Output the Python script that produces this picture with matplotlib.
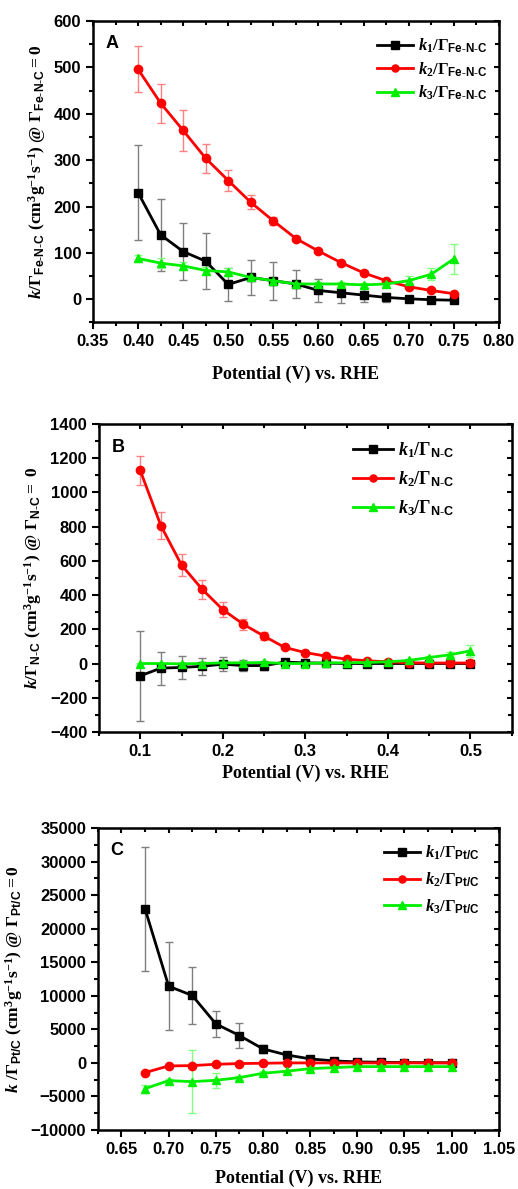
import numpy as np
import matplotlib
matplotlib.use("Agg")
import matplotlib.pyplot as plt
from matplotlib.ticker import MultipleLocator

plt.rcParams["font.family"] = ["Liberation Sans", "DejaVu Sans"]
plt.rcParams["font.weight"] = "bold"
plt.rcParams["mathtext.fontset"] = "custom"
plt.rcParams["mathtext.rm"] = "Liberation Serif:bold"
plt.rcParams["mathtext.it"] = "Liberation Serif:italic"
plt.rcParams["mathtext.bf"] = "Liberation Serif:bold"
plt.rcParams["mathtext.bfit"] = "Liberation Serif:italic:bold"
plt.rcParams["mathtext.sf"] = "Liberation Sans:bold"

# Panel A: Fe-N-C
pot_a = [0.400, 0.425, 0.450, 0.475, 0.500, 0.525, 0.550, 0.575, 0.600,
         0.625, 0.650, 0.675, 0.700, 0.725, 0.750]
k1_a = [230, 139, 103, 82, 32, 47, 40, 33, 19, 14, 9, 4, 1, -1, -2]
k1_a_err = [103, 77, 61, 60, 35, 38, 41, 30, 24, 22, 15, 10, 5, 3, 3]
k2_a = [496, 423, 364, 304, 256, 209, 169, 131, 104, 79, 57, 40, 27, 19, 12]
k2_a_err = [50, 42, 44, 31, 22, 15, 9, 6, 5, 4, 3, 3, 3, 2, 2]
k3_a = [88, 78, 72, 62, 59, 47, 40, 33, 33, 33, 31, 33, 40, 54, 87]
k3_a_err = [8, 10, 8, 8, 8, 6, 5, 5, 5, 5, 4, 4, 10, 13, 32]

# Panel B: N-C
pot_b = [0.100, 0.125, 0.150, 0.175, 0.200, 0.225, 0.250, 0.275, 0.300,
         0.325, 0.350, 0.375, 0.400, 0.425, 0.450, 0.475, 0.500]
k1_b = [-72, -27, -23, -16, -4, -12, -12, 8, 4, 2, 0, 0, 0, 0, 0, 0, 0]
k1_b_err = [264, 96, 69, 49, 40, 30, 24, 8, 5, 4, 3, 3, 3, 3, 3, 3, 3]
k2_b = [1129, 806, 576, 434, 315, 229, 160, 94, 64, 43, 25, 16, 10, 4, 3, 3, 3]
k2_b_err = [85, 79, 64, 55, 43, 32, 22, 10, 6, 5, 4, 3, 3, 3, 3, 3, 3]
k3_b = [0, 0, -2, 0, 4, 4, 6, 0, 0, 4, 4, 6, 10, 18, 35, 51, 74]
k3_b_err = [5, 5, 5, 5, 5, 5, 5, 5, 5, 5, 5, 5, 6, 8, 10, 15, 36]

# Panel C: Pt/C
pot_c = [0.675, 0.700, 0.725, 0.750, 0.775, 0.800, 0.825, 0.850, 0.875,
         0.900, 0.925, 0.950, 0.975, 1.000]
k1_c = [22940, 11430, 10050, 5820, 4080, 2090, 1190, 600, 300, 150, 100, 50, 30, 20]
k1_c_err = [9200, 6600, 4300, 1950, 1800, 600, 250, 150, 100, 80, 60, 50, 50, 50]
k2_c = [-1440, -450, -400, -200, -100, -50, 0, 0, 0, 0, 0, 0, 0, 0]
k2_c_err = [100, 100, 100, 80, 60, 50, 50, 50, 50, 50, 50, 50, 50, 50]
k3_c = [-3830, -2640, -2790, -2590, -2190, -1540, -1240, -850, -700,
        -550, -550, -550, -550, -550]
k3_c_err = [600, 300, 4700, 1150, 300, 300, 200, 150, 100, 80, 80, 80, 80, 80]

HY = r"\text{-}"
UNITS = r"\ \mathbf{(cm^{3}g^{-1}s^{-1})}\ \mathrm{@}\ "


def draw_panel(ax, x, series, letter, xlim, xmaj, ylim, ymaj, ylabel, labels,
               legend_size, xpad, leg_anchor, leg_spacing):
    styles = [("black", "#7f7f7f", "s"), ("#ff0000", "#ff8080", "o"),
              ("#00ee00", "#80ff80", "^")]
    for (y, err), (col, ecol, mk), lab in zip(series, styles, labels):
        ax.errorbar(x, y, yerr=err, fmt="none", ecolor=ecol, elinewidth=1.0,
                    capsize=3, capthick=1.0, zorder=2)
        ax.plot(x, y, color=col, marker=mk, markersize=6, linewidth=2,
                label=lab, zorder=3)
    ax.set_xlim(*xlim)
    ax.set_ylim(*ylim)
    ax.xaxis.set_major_locator(MultipleLocator(xmaj))
    ax.xaxis.set_minor_locator(MultipleLocator(xmaj / 2))
    ax.yaxis.set_major_locator(MultipleLocator(ymaj))
    ax.yaxis.set_minor_locator(MultipleLocator(ymaj / 2))
    ax.tick_params(which="both", direction="out", width=1.5, labelsize=12)
    ax.tick_params(which="major", length=5)
    ax.tick_params(which="minor", length=3)
    for sp in ax.spines.values():
        sp.set_linewidth(1.8)
    top = ax.secondary_xaxis("top")
    top.xaxis.set_major_locator(MultipleLocator(xmaj))
    top.xaxis.set_minor_locator(MultipleLocator(xmaj / 2))
    top.tick_params(which="both", direction="in", labeltop=False, width=1.5)
    top.tick_params(which="minor", length=3)
    right = ax.secondary_yaxis("right")
    right.yaxis.set_major_locator(MultipleLocator(ymaj))
    right.yaxis.set_minor_locator(MultipleLocator(ymaj / 2))
    right.tick_params(which="both", direction="in", labelright=False, width=1.5)
    right.tick_params(which="minor", length=3)
    ax.set_xlabel("Potential (V) vs. RHE", family="Liberation Serif",
                  fontweight="bold", fontsize=13, labelpad=xpad)
    ax.set_ylabel(ylabel, fontsize=12.5, labelpad=4)
    ax.text(0.03, 0.91, letter, transform=ax.transAxes, fontsize=13,
            fontweight="bold")
    ax.legend(loc="upper right", bbox_to_anchor=leg_anchor, frameon=False,
              fontsize=legend_size, handlelength=2.2, handletextpad=0.3,
              borderaxespad=0.0, labelspacing=leg_spacing, markerscale=0.85)


fig = plt.figure(figsize=(5.18, 11.89), dpi=100)
ax_a = fig.add_axes([0.1795, 0.7288, 0.7835, 0.2535])
ax_b = fig.add_axes([0.191, 0.3844, 0.797, 0.259])
ax_c = fig.add_axes([0.189, 0.0496, 0.774, 0.254])

fenc = r"\mathsf{Fe" + HY + "N" + HY + "C}"
draw_panel(
    ax_a, pot_a,
    [(k1_a, k1_a_err), (k2_a, k2_a_err), (k3_a, k3_a_err)],
    "A", (0.35, 0.80), 0.05, (-50, 600), 100,
    r"$\mathbfit{k}/\Gamma_{" + fenc + "}" + UNITS + r"\Gamma_{" + fenc + r"}{=}0$",
    [r"$\mathit{k_1}/\Gamma_{" + fenc + "}$",
     r"$\mathit{k_2}/\Gamma_{" + fenc + "}$",
     r"$\mathit{k_3}/\Gamma_{" + fenc + "}$"],
    12, 12, (0.99, 0.97), 0.3)

nc = r"\mathsf{N" + HY + "C}"
draw_panel(
    ax_b, pot_b,
    [(k1_b, k1_b_err), (k2_b, k2_b_err), (k3_b, k3_b_err)],
    "B", (0.05, 0.55), 0.1, (-400, 1400), 200,
    r"$\mathbfit{k}/\Gamma_{" + nc + "}" + UNITS + r"\Gamma_{" + nc + r"}{=}\ 0$",
    [r"$\mathbfit{k}_\mathbf{1}/\Gamma_{" + nc + "}$",
     r"$\mathbfit{k}_\mathbf{2}/\Gamma_{" + nc + "}$",
     r"$\mathbfit{k}_\mathbf{3}/\Gamma_{" + nc + "}$"],
    13, 4, (0.88, 0.97), 0.5)

ptc = r"\mathsf{Pt/C}"
draw_panel(
    ax_c, pot_c,
    [(k1_c, k1_c_err), (k2_c, k2_c_err), (k3_c, k3_c_err)],
    "C", (0.625, 1.05), 0.05, (-10000, 35000), 5000,
    r"$\mathbfit{k}\ /\Gamma_{" + ptc + "}" + UNITS + r"\Gamma_{" + ptc + r"}{=}0$",
    [r"$\mathit{k_1}/\Gamma_{" + ptc + "}$",
     r"$\mathit{k_2}/\Gamma_{" + ptc + "}$",
     r"$\mathit{k_3}/\Gamma_{" + ptc + "}$"],
    12, 9, (0.97, 0.97), 0.5)

fig.savefig("out.png", dpi=100)
